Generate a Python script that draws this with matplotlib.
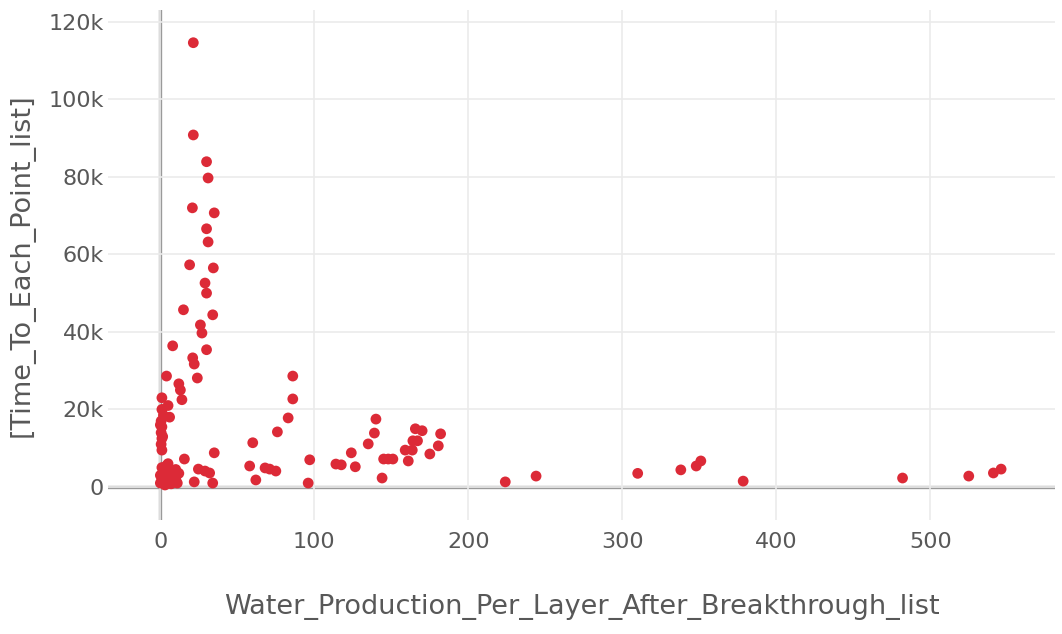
import matplotlib.pyplot as plt
from matplotlib.ticker import FuncFormatter

plt.rcParams['font.family'] = ['DejaVu Sans']

# tall cluster near x ~ 0-35
water_tall = [21.4, 21.4, 30, 31, 20.8, 35, 30, 31, 19, 34.4,
              29, 30, 15, 34, 26, 27, 8, 30, 21, 22,
              4, 24, 12, 13, 14, 1, 5, 6]
time_tall = [114600, 90800, 83900, 79700, 72000, 70700, 66600, 63200, 57300, 56500,
             52600, 50000, 45700, 44400, 41800, 39700, 36400, 35400, 33300, 31700,
             28600, 28100, 26600, 25000, 22500, 23000, 21000, 18000]

# column at x ~ 0 and low cluster
water_low = [1, 0.5, 1, 0.5, 1, 0.5, 2, 1, 0, 1.5,
             15.6, 35, 24.7, 29, 32, 22, 34,
             0, 1, 2, 3, 4, 5, 6, 7, 8, 9, 10, 11, 12, 3, 0, 1, 5, 2, 7, 10]
time_low = [9500, 11000, 12500, 14000, 15500, 17000, 18500, 20000, 16000, 13000,
            7200, 8800, 4600, 4100, 3600, 1300, 1000,
            1000, 2000, 3000, 4500, 5500, 3500, 2500, 1500, 4000, 3000, 2000, 1000, 3500, 500, 3000, 5000, 6000, 4000, 800, 4500]

# middle group 55 - 185
water_mid = [86, 86, 83, 76, 60, 58, 62, 68, 71, 75,
             97, 96, 114, 117.5, 124, 126.6, 135, 139, 140, 144,
             145, 148, 151, 159, 161, 163.6, 164, 167, 165.6, 170,
             175, 180.5, 182]
time_mid = [28600, 22700, 17800, 14200, 11400, 5400, 1800, 4900, 4600, 4100,
            7000, 1000, 5900, 5700, 8800, 5200, 11100, 13900, 17500, 2300,
            7200, 7200, 7200, 9500, 6700, 9500, 11900, 11900, 15000, 14500,
            8500, 10600, 13700]

# far right points
water_far = [224, 244, 310, 338, 348, 351, 378.5, 482, 525, 541, 546]
time_far = [1300, 2800, 3500, 4400, 5400, 6700, 1500, 2300, 2800, 3600, 4600]

water = water_tall + water_low + water_mid + water_far
time_pts = time_tall + time_low + time_mid + time_far

fig = plt.figure(figsize=(10.62, 6.34), dpi=100)
ax = fig.add_axes([0.1017, 0.18, 0.8917, 0.804])

ax.scatter(water, time_pts, s=60, color='#dc2a37', edgecolors='none', zorder=3)

ax.set_xlim(-34, 581)
ax.set_ylim(-8500, 123000)
ax.set_xticks([0, 100, 200, 300, 400, 500])
ax.set_yticks([0, 20000, 40000, 60000, 80000, 100000, 120000])
ax.yaxis.set_major_formatter(FuncFormatter(lambda v, p: '0' if v == 0 else f'{int(v/1000)}k'))

ax.grid(True, color='#ebebeb', linewidth=1.2, zorder=0)
ax.axhline(0, color='#9a9a9a', linewidth=2.4, zorder=1)
ax.axvline(0, color='#9a9a9a', linewidth=2.4, zorder=1)
for s in ax.spines.values():
    s.set_visible(False)
ax.tick_params(length=0, labelsize=16, colors='#585858')
ax.tick_params(axis='x', pad=9)
ax.tick_params(axis='y', pad=3)

ax.set_xlabel('Water_Production_Per_Layer_After_Breakthrough_list', fontsize=19.5, color='#585858', labelpad=30)
ax.set_ylabel('[Time_To_Each_Point_list]', fontsize=19.5, color='#585858', labelpad=10)

fig.savefig('out.png', dpi=100)
